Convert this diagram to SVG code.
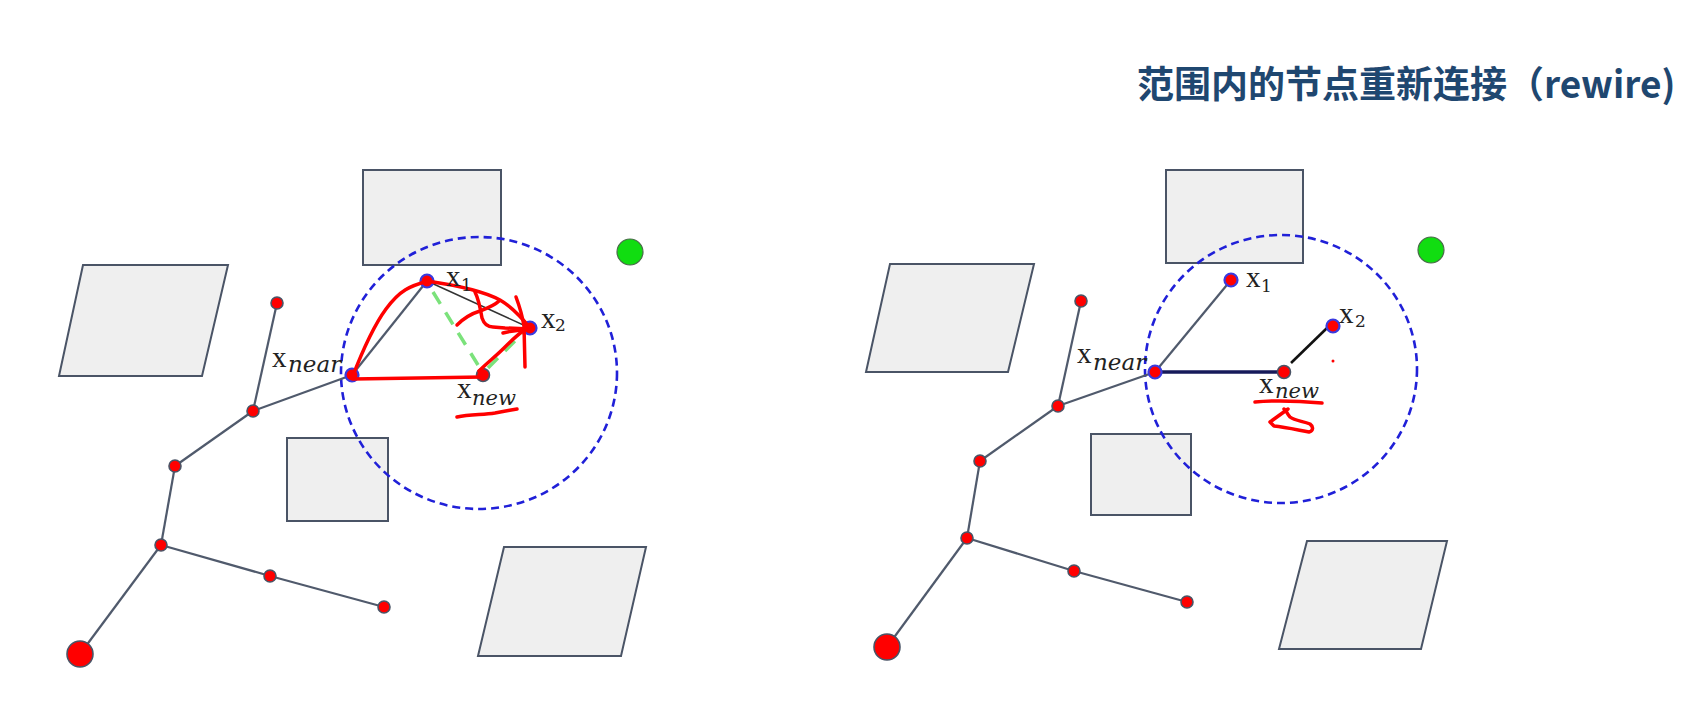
<svg xmlns="http://www.w3.org/2000/svg" width="1683" height="728" viewBox="0 0 1683 728">
  <style>
    .obs { fill: #efefef; stroke: #4a5466; stroke-width: 2; }
    .edge { stroke: #505a6c; stroke-width: 2.2; fill: none; }
    .node { fill: #ff0000; stroke: #4a5466; stroke-width: 1.6; }
    .nodeb { fill: #ff0000; stroke: #3a3ae0; stroke-width: 2.2; }
    .range { fill: none; stroke: #2020d8; stroke-width: 2.6; stroke-dasharray: 8 5; }
    .goal { fill: #11dd11; stroke: #4a6a4a; stroke-width: 1.2; }
    .red { fill: none; stroke: #ff0000; stroke-width: 3.5; stroke-linecap: round; stroke-linejoin: round; }
    .lx { font-family: "Liberation Serif", serif; font-size: 29px; fill: #222; }
    .ls { font-family: "DejaVu Serif", serif; font-size: 21px; font-style: italic; fill: #222; }
    .ln { font-family: "DejaVu Serif", serif; font-size: 23px; font-style: italic; fill: #222; }
    .ld { font-family: "DejaVu Serif", serif; font-size: 17px; fill: #222; }
    .title { font-family: "Noto Sans CJK SC", "Noto Sans", sans-serif; font-size: 37px; font-weight: bold; fill: #1f4770; }
  </style>

  <rect width="1683" height="728" fill="#ffffff"/>

  <text id="title" class="title" x="1137" y="98">范围内的节点重新连接（rewire)</text>

  <!-- LEFT PANEL -->
  <g id="left-obstacles">
    <rect id="L-ob-top" class="obs" x="363" y="170" width="138" height="95"/>
    <polygon id="L-ob-left" class="obs" points="83,265 228,265 202,376 59,376"/>
    <rect id="L-ob-mid" class="obs" x="287" y="438" width="101" height="83"/>
    <polygon id="L-ob-br" class="obs" points="504,547 646,547 621,656 478,656"/>
  </g>
  <ellipse id="L-range" class="range" cx="479" cy="373" rx="138" ry="136"/>
  <circle id="L-goal" class="goal" cx="630" cy="252" r="13"/>

  <g id="left-connectors">
    <line class="edge" x1="80" y1="654" x2="161" y2="545"/>
    <line class="edge" x1="161" y1="545" x2="175" y2="466"/>
    <line class="edge" x1="175" y1="466" x2="253" y2="411"/>
    <line class="edge" x1="253" y1="411" x2="277" y2="303"/>
    <line class="edge" x1="253" y1="411" x2="352" y2="375"/>
    <line class="edge" x1="161" y1="545" x2="270" y2="576"/>
    <line class="edge" x1="270" y1="576" x2="384" y2="607"/>
    <line class="edge" x1="352" y1="375" x2="427" y2="281"/>
    <line x1="427" y1="281" x2="530" y2="328" stroke="#333" stroke-width="1.5"/>
    <line x1="433" y1="292" x2="478" y2="365" stroke="#7be27b" stroke-width="3.5" stroke-dasharray="14 10"/>
    <line x1="488" y1="368" x2="524" y2="332" stroke="#7be27b" stroke-width="3.5" stroke-dasharray="14 10"/>
  </g>

  <g id="left-nodes">
    <circle id="L-root" class="node" cx="80" cy="654" r="13"/>
    <circle id="L-n1" class="node" cx="161" cy="545" r="6"/>
    <circle id="L-n2" class="node" cx="175" cy="466" r="6"/>
    <circle id="L-n3" class="node" cx="253" cy="411" r="6"/>
    <circle id="L-n4" class="node" cx="277" cy="303" r="6"/>
    <circle id="L-n5" class="node" cx="270" cy="576" r="6"/>
    <circle id="L-n6" class="node" cx="384" cy="607" r="6"/>
    <circle id="L-xnear" class="nodeb" cx="352" cy="375" r="6.5"/>
    <circle id="L-x1" class="nodeb" cx="427" cy="281" r="6.5"/>
    <circle id="L-x2" class="nodeb" cx="530" cy="328" r="6.5"/>
    <circle id="L-xnew" class="node" cx="483" cy="375" r="6.5"/>
  </g>

  <g id="left-annotations">
    <path class="red" d="M352,378 C362,352 372,328 386,309 S410,286 428,281"/>
    <path class="red" stroke-width="4" d="M353,379 L483,377"/>
    <path class="red" d="M427,281 C455,285 485,292 500,300 C512,307 522,318 530,328"/>
    <path class="red" d="M475,292 C479,300 481,312 482,318 C484,324 488,327 493,327 L505,328 L530,329"/>
    <path class="red" d="M457,325 C463,319 470,314 480,311 C488,308 495,305 499,301"/>
    <path class="red" d="M516,297 C519,305 522,314 524,326 L525,367"/>
    <path class="red" d="M503,333 C510,331 518,330 528,330"/>
    <path class="red" d="M479,371 C487,363 496,356 504,348 C511,341 516,336 523,331"/>
    <path class="red" d="M457,417 C470,414 483,415 495,413 C505,411 512,410 517,409"/>
  </g>

  <g id="left-labels">
    <text class="lx" x="272" y="367">x</text><text class="ln" x="288" y="372">near</text>
    <text class="lx" x="446" y="286">x</text><text class="ld" x="461" y="291">1</text>
    <text class="lx" x="541" y="328">x</text><text class="ld" x="555" y="331">2</text>
    <text class="lx" x="457" y="398">x</text><text class="ls" x="472" y="405">new</text>
  </g>

  <!-- RIGHT PANEL -->
  <g id="right-obstacles">
    <rect id="R-ob-top" class="obs" x="1166" y="170" width="137" height="93"/>
    <polygon id="R-ob-left" class="obs" points="890,264 1034,264 1008,372 866,372"/>
    <rect id="R-ob-mid" class="obs" x="1091" y="434" width="100" height="81"/>
    <polygon id="R-ob-br" class="obs" points="1307,541 1447,541 1421,649 1279,649"/>
  </g>
  <ellipse id="R-range" class="range" cx="1281" cy="369" rx="136" ry="134"/>
  <circle id="R-goal" class="goal" cx="1431" cy="250" r="13"/>

  <g id="right-connectors">
    <line class="edge" x1="887" y1="647" x2="967" y2="538"/>
    <line class="edge" x1="967" y1="538" x2="980" y2="461"/>
    <line class="edge" x1="980" y1="461" x2="1058" y2="406"/>
    <line class="edge" x1="1058" y1="406" x2="1081" y2="301"/>
    <line class="edge" x1="1058" y1="406" x2="1155" y2="372"/>
    <line class="edge" x1="967" y1="538" x2="1074" y2="571"/>
    <line class="edge" x1="1074" y1="571" x2="1187" y2="602"/>
    <line class="edge" x1="1155" y1="372" x2="1231" y2="280"/>
    <line x1="1155" y1="372" x2="1284" y2="372" stroke="#161a5a" stroke-width="3.5"/>
    <line x1="1291" y1="363" x2="1327" y2="328" stroke="#111" stroke-width="2.6"/>
  </g>

  <g id="right-nodes">
    <circle id="R-root" class="node" cx="887" cy="647" r="13"/>
    <circle id="R-n1" class="node" cx="967" cy="538" r="6"/>
    <circle id="R-n2" class="node" cx="980" cy="461" r="6"/>
    <circle id="R-n3" class="node" cx="1058" cy="406" r="6"/>
    <circle id="R-n4" class="node" cx="1081" cy="301" r="6"/>
    <circle id="R-n5" class="node" cx="1074" cy="571" r="6"/>
    <circle id="R-n6" class="node" cx="1187" cy="602" r="6"/>
    <circle id="R-xnear" class="nodeb" cx="1155" cy="372" r="6.5"/>
    <circle id="R-x1" class="nodeb" cx="1231" cy="280" r="6.5"/>
    <circle id="R-x2" class="nodeb" cx="1333" cy="326" r="6.5"/>
    <circle id="R-xnew" class="node" cx="1284" cy="372" r="6.5"/>
  </g>

  <g id="right-annotations">
    <circle cx="1333" cy="361" r="1.5" fill="#ff0000"/>
    <path class="red" stroke-width="3" d="M1255,402 C1275,400 1300,401 1322,403"/>
    <path class="red" stroke-width="3" d="M1288,409 L1270,422 L1274,426 C1285,427 1298,430 1309,432 C1313,431 1314,427 1310,424 C1303,421 1295,421 1290,417 C1287,414 1287,411 1284,409"/>
  </g>

  <g id="right-labels">
    <text class="lx" x="1077" y="363">x</text><text class="ln" x="1093" y="370">near</text>
    <text class="lx" x="1246" y="287">x</text><text class="ld" x="1261" y="292">1</text>
    <text class="lx" x="1339" y="323">x</text><text class="ld" x="1355" y="327">2</text>
    <text class="lx" x="1259" y="393">x</text><text class="ls" x="1275" y="398">new</text>
  </g>
</svg>
